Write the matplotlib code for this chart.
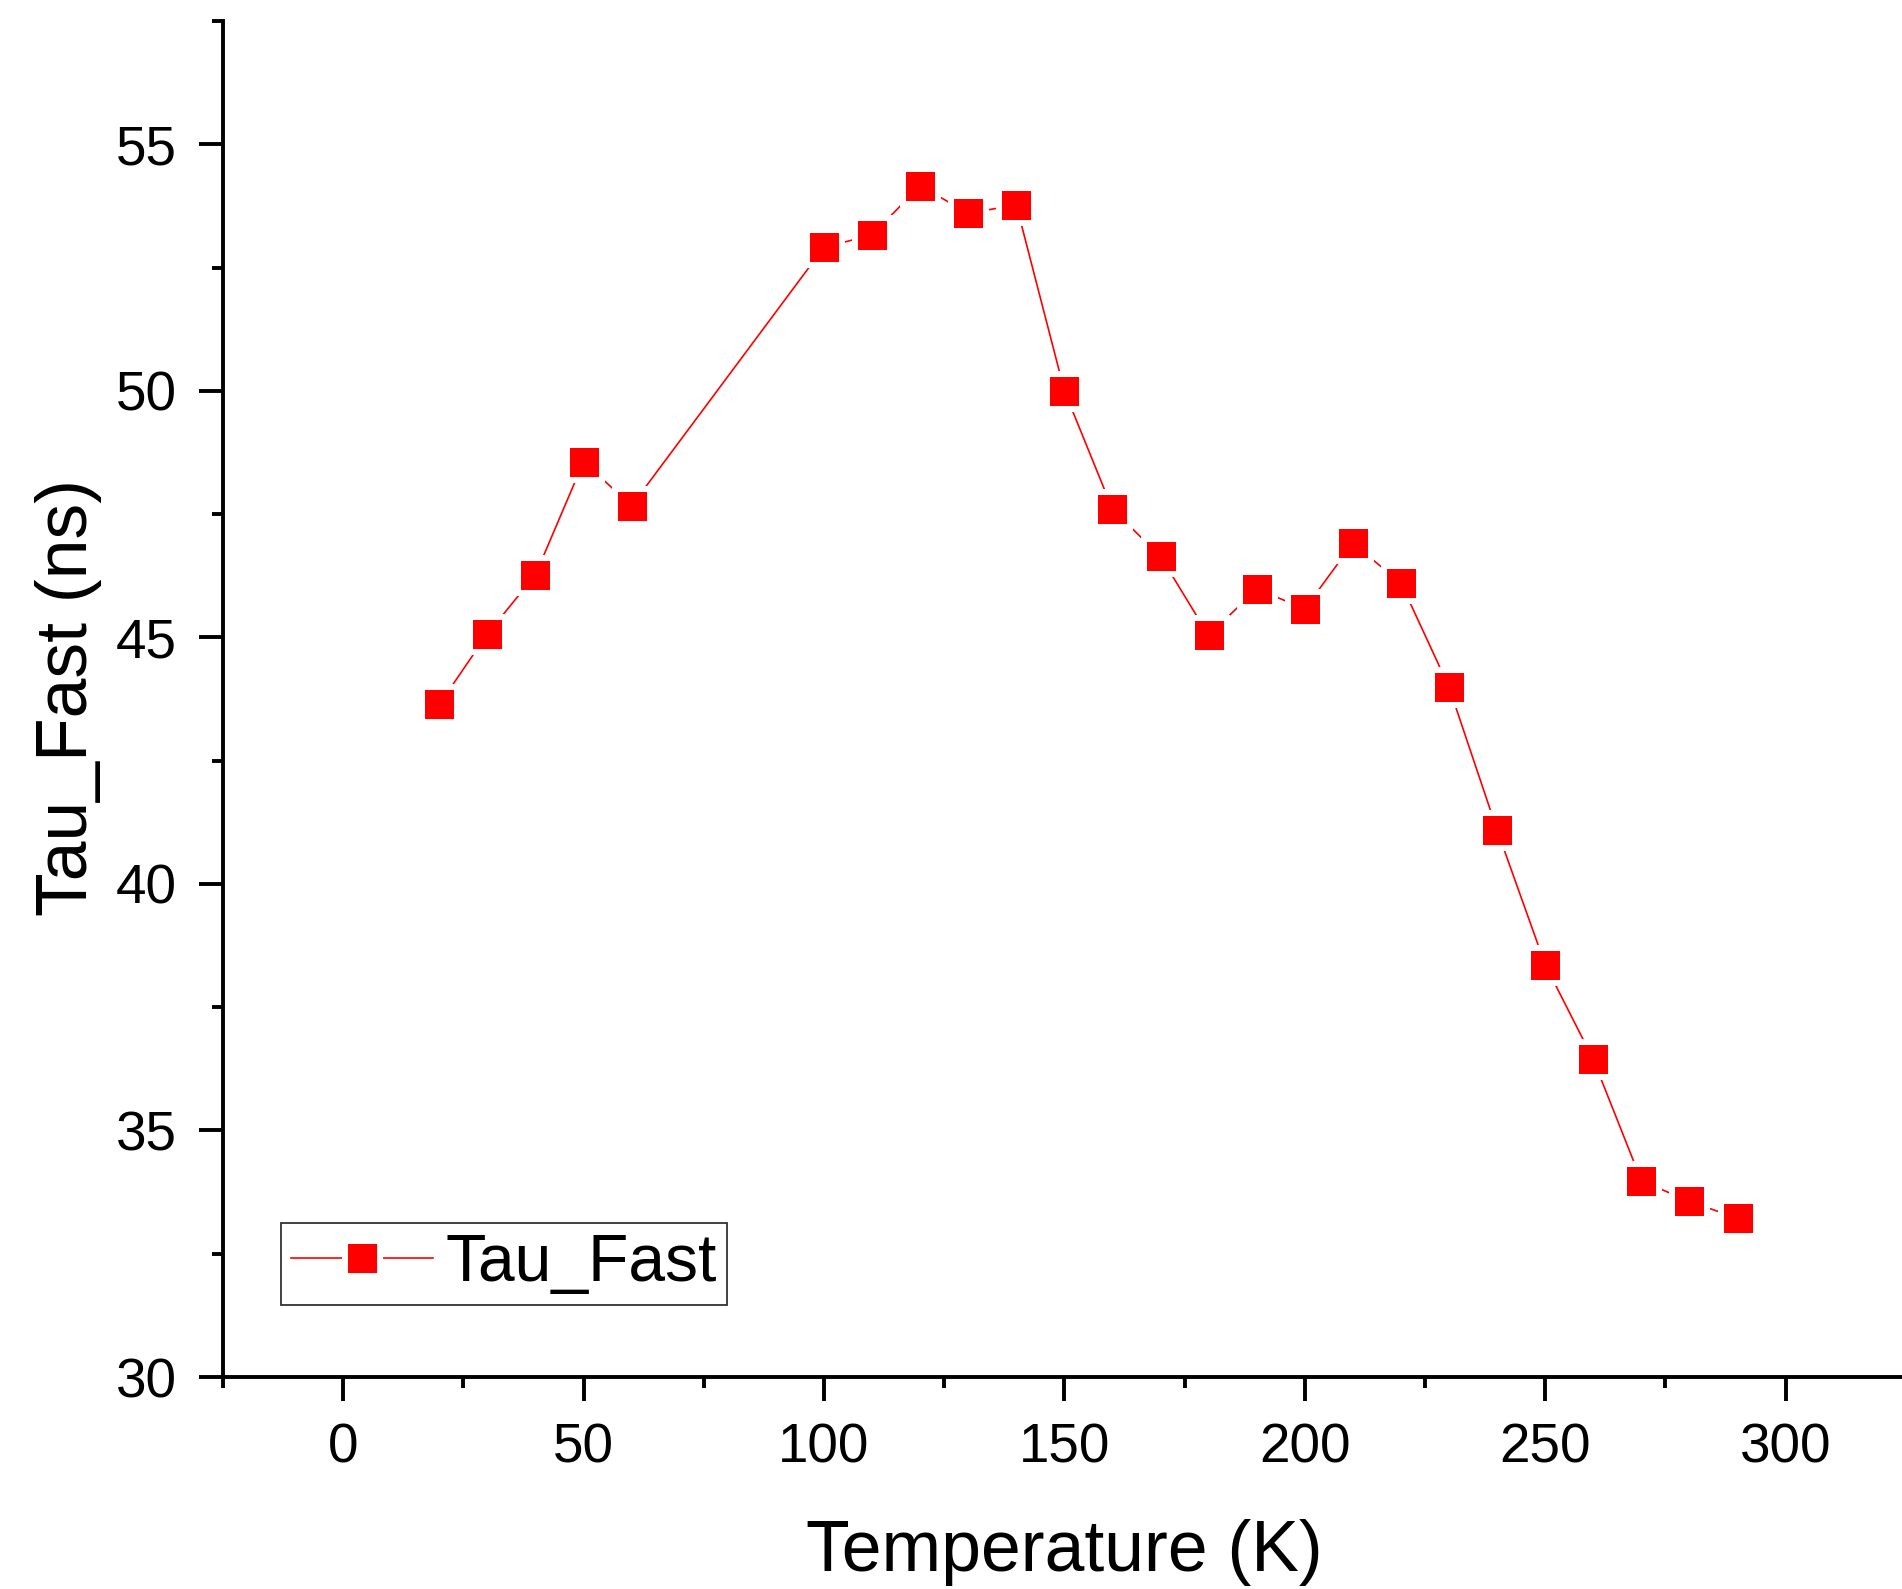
import numpy as np
import matplotlib
matplotlib.use("Agg")
import matplotlib.pyplot as plt
from matplotlib.ticker import MultipleLocator

plt.rcParams['font.family'] = ['Liberation Sans', 'DejaVu Sans']

# temperature scan and fitted fast decay time
temperature = [20, 30, 40, 50, 60, 100, 110, 120, 130, 140, 150, 160, 170,
               180, 190, 200, 210, 220, 230, 240, 250, 260, 270, 280, 290]
tau_fast = [43.64, 45.07, 46.27, 48.56, 47.67, 52.91, 53.16, 54.16, 53.60,
            53.77, 50.00, 47.60, 46.64, 45.04, 45.98, 45.58, 46.91, 46.10,
            43.99, 41.09, 38.36, 36.44, 33.98, 33.56, 33.22]

fig = plt.figure(figsize=(19.02, 15.89), dpi=100)
ax = fig.add_axes([0.1172, 0.1334, 0.8828, 0.8534])

# white marker edge leaves a small gap between line and square
ax.plot(temperature, tau_fast, color='#ff0000', lw=1.2,
        marker='s', markersize=25.2, markerfacecolor='#ff0000',
        markeredgecolor='white', markeredgewidth=4.3, label='Tau_Fast')

ax.set_xlim(-25, 324.2)
ax.set_ylim(30, 57.5)

ax.xaxis.set_major_locator(MultipleLocator(50))
ax.xaxis.set_minor_locator(MultipleLocator(25))
ax.yaxis.set_major_locator(MultipleLocator(5))
ax.yaxis.set_minor_locator(MultipleLocator(2.5))

for side in ['top', 'right']:
    ax.spines[side].set_visible(False)
for side in ['left', 'bottom']:
    ax.spines[side].set_linewidth(2.8)

ax.tick_params(which='major', direction='out', length=17, width=2.8,
               labelsize=39.5)
ax.tick_params(which='minor', direction='out', length=8, width=2.8)
ax.tick_params(axis='x', which='major', pad=16)
ax.tick_params(axis='y', which='major', pad=16)

ax.set_xlabel('Temperature (K)', fontsize=51.5)
ax.set_ylabel('Tau_Fast (ns)', fontsize=51.5)
ax.xaxis.set_label_coords(0.501, -0.105)
ax.yaxis.set_label_coords(-0.072, 0.501)

leg = ax.legend(loc='lower left', bbox_to_anchor=(0.0345, 0.0531),
                fontsize=47.5, frameon=True, fancybox=False, shadow=False,
                borderpad=0.15, handlelength=2.15, handletextpad=0.2,
                borderaxespad=0)
leg.get_frame().set_edgecolor('black')
leg.get_frame().set_linewidth(1.3)

fig.savefig('out.png', dpi=100)
